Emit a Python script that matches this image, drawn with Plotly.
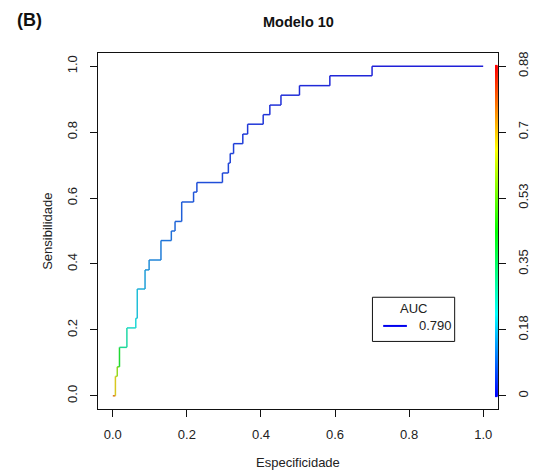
import colorsys
import numpy as np
import plotly.graph_objects as go

# ---------------- data ----------------
especificidade = [0.000, 0.007, 0.007, 0.012, 0.012, 0.018, 0.018, 0.038, 0.038, 0.062,
                  0.062, 0.066, 0.066, 0.087, 0.087, 0.098, 0.098, 0.130, 0.130, 0.158,
                  0.158, 0.168, 0.168, 0.186, 0.186, 0.218, 0.218, 0.227, 0.227, 0.296,
                  0.296, 0.312, 0.312, 0.317, 0.317, 0.326, 0.326, 0.351, 0.351, 0.364,
                  0.364, 0.406, 0.406, 0.424, 0.424, 0.454, 0.454, 0.504, 0.504, 0.586,
                  0.586, 0.700, 0.700, 1.000]
sensibilidade = [0.000, 0.000, 0.059, 0.059, 0.088, 0.088, 0.147, 0.147, 0.206, 0.206,
                 0.235, 0.235, 0.324, 0.324, 0.382, 0.382, 0.412, 0.412, 0.471, 0.471,
                 0.500, 0.500, 0.529, 0.529, 0.588, 0.588, 0.618, 0.618, 0.647, 0.647,
                 0.676, 0.676, 0.706, 0.706, 0.735, 0.735, 0.765, 0.765, 0.794, 0.794,
                 0.824, 0.824, 0.853, 0.853, 0.882, 0.882, 0.912, 0.912, 0.941, 0.941,
                 0.971, 0.971, 1.000, 1.000]
cutoffs = [0.88, 0.78, 0.68, 0.62, 0.58, 0.52, 0.42, 0.30, 0.28, 0.24,
           0.22, 0.21, 0.19, 0.17, 0.15, 0.14, 0.13, 0.12, 0.11, 0.10,
           0.095, 0.09, 0.085, 0.08, 0.075, 0.07, 0.065, 0.06, 0.058, 0.055,
           0.05, 0.048, 0.046, 0.044, 0.042, 0.04, 0.038, 0.036, 0.034, 0.032,
           0.03, 0.028, 0.026, 0.024, 0.022, 0.02, 0.018, 0.016, 0.014, 0.012,
           0.01, 0.008, 0.006, 0.0]
cutoff_max = 0.88
colorbar_labels = ["0", "0.18", "0.35", "0.53", "0.7", "0.88"]
axis_ticks = [0.0, 0.2, 0.4, 0.6, 0.8, 1.0]
axis_ticklabels = ["0.0", "0.2", "0.4", "0.6", "0.8", "1.0"]
auc_value = "0.790"
title_text = "Modelo 10"
panel_label = "(B)"
x_title = "Especificidade"
y_title = "Sensibilidade"

FONT = "Liberation Sans, Arial, sans-serif"


def rainbow(t):
    h = (240.0 * (1.0 - min(max(t / cutoff_max, 0.0), 1.0))) / 360.0
    r, g, b = colorsys.hsv_to_rgb(h, 1.0, 1.0)
    return f"rgb({int(r*255)},{int(g*255)},{int(b*255)})"


def curve_color(t):
    # slightly darkened rainbow to mimic the thin anti-aliased R lines
    h = (240.0 * (1.0 - min(max(t / cutoff_max, 0.0), 1.0))) / 360.0
    r, g, b = colorsys.hsv_to_rgb(h, 0.85, 0.85)
    return f"rgb({int(r*255)},{int(g*255)},{int(b*255)})"


fig = go.Figure()

# ROC curve, each segment coloured by cutoff
for i in range(1, len(especificidade)):
    fig.add_trace(go.Scatter(
        x=[especificidade[i - 1], especificidade[i]],
        y=[sensibilidade[i - 1], sensibilidade[i]],
        mode="lines", line=dict(color=curve_color(cutoffs[i]), width=1.5),
        showlegend=False, hoverinfo="skip"))

# colour key strip on the right edge (in cutoff units on yaxis2)
key_vals = np.linspace(0, cutoff_max, 360)
n = 60
scale = [[k / n, rainbow(cutoff_max * k / n)] for k in range(n + 1)]
fig.add_trace(go.Scatter(
    x=[1.0355] * len(key_vals), y=key_vals, yaxis="y2", mode="markers",
    marker=dict(symbol="square", size=2.6, color=key_vals, colorscale=scale,
                cmin=0, cmax=cutoff_max, line=dict(width=0)),
    showlegend=False, hoverinfo="skip"))

xr = [-0.04, 1.04]
yr = [-0.04, 1.04]
key_ticks = [cutoff_max * v for v in axis_ticks]

axis_common = dict(showgrid=False, zeroline=False, showline=True, linecolor="#111",
                   linewidth=1, ticks="outside", ticklen=7, tickwidth=1, automargin=False,
                   tickcolor="#111", tickfont=dict(family=FONT, size=13, color="#222"))

fig.update_layout(
    width=534, height=472,
    margin=dict(l=98, r=36, t=53, b=63, autoexpand=False),
    paper_bgcolor="white", plot_bgcolor="white",
    xaxis=dict(range=xr, tickvals=axis_ticks, ticktext=axis_ticklabels, mirror=True,
               ticklabelstandoff=6, **axis_common),
    yaxis=dict(range=yr, tickvals=axis_ticks, ticktext=axis_ticklabels, mirror=True,
               tickangle=-90, ticklabelstandoff=8, **axis_common),
    yaxis2=dict(range=[v * cutoff_max for v in yr], overlaying="y", side="right",
                tickvals=key_ticks, ticktext=colorbar_labels, tickangle=-90,
                ticklabelstandoff=6, **axis_common),
)

# legend box drawn in data coordinates
fig.add_shape(type="rect", x0=0.701, x1=0.923, y0=0.165, y1=0.299, xref="x", yref="y",
              line=dict(color="#111", width=1), fillcolor="white", layer="above")
fig.add_shape(type="line", x0=0.730, x1=0.794, y0=0.212, y1=0.212, xref="x", yref="y",
              line=dict(color="#0000ee", width=2), layer="above")
fig.add_annotation(x=0.8115, y=0.266, xref="x", yref="y", text="AUC", showarrow=False,
                   font=dict(family=FONT, size=13, color="#222"), xanchor="center", yanchor="middle")
fig.add_annotation(x=0.821, y=0.212, xref="x", yref="y", text=auc_value, showarrow=False,
                   font=dict(family=FONT, size=13, color="#222"), xanchor="left", yanchor="middle")

# titles
fig.add_annotation(x=0.5, y=1.087, xref="paper", yref="paper", text=f"<b>{title_text}</b>",
                   showarrow=False, font=dict(family=FONT, size=14.5, color="#111"),
                   xanchor="center", yanchor="middle")
fig.add_annotation(x=-0.2075, y=1.092, xref="paper", yref="paper", text=f"<b>{panel_label}</b>",
                   showarrow=False, font=dict(family=FONT, size=18, color="#111"),
                   xanchor="left", yanchor="middle")
fig.add_annotation(x=0.5, y=-0.149, xref="paper", yref="paper", text=x_title,
                   showarrow=False, font=dict(family=FONT, size=13, color="#222"),
                   xanchor="center", yanchor="middle")
fig.add_annotation(x=-0.128, y=0.5, xref="paper", yref="paper", text=y_title, textangle=-90,
                   showarrow=False, font=dict(family=FONT, size=13, color="#222"),
                   xanchor="center", yanchor="middle")

fig.write_html("out.html")
